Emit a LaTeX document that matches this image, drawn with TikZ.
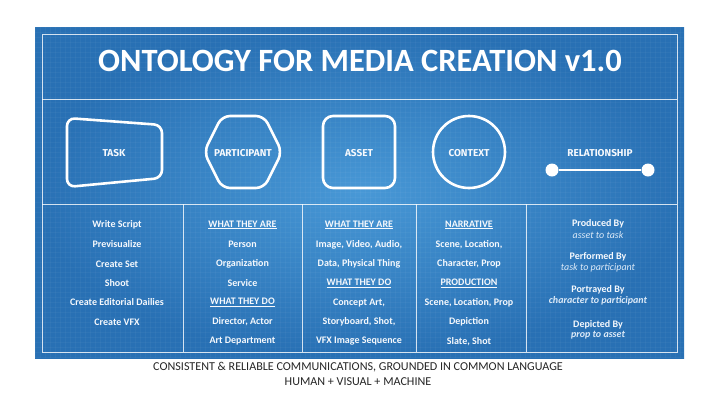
\documentclass[tikz,border=0pt]{standalone}
\usepackage{fontspec}
\setmainfont{Carlito}
\newfontfamily\shapefont{Fira Sans}
\definecolor{panelD}{RGB}{40,112,180}
\definecolor{panelL}{RGB}{72,152,214}
\definecolor{txt}{RGB}{246,249,253}
\definecolor{soft}{RGB}{220,234,248}
\definecolor{foot}{RGB}{38,38,38}
\tikzset{
  frameline/.style={draw=white, draw opacity=0.8, line width=0.9pt},
  shapeline/.style={draw=white, line width=2.6pt, rounded corners=8pt},
  shapelabel/.style={text=txt, font=\shapefont\bfseries\fontsize{10}{12}\selectfont},
  cell/.style={text=txt, font=\bfseries\fontsize{10}{12}\selectfont, inner sep=0pt},
  relhead/.style={text=txt, font=\bfseries\fontsize{10}{12}\selectfont, inner sep=0pt},
  relsub/.style={text=soft, font=\itshape\fontsize{10}{12}\selectfont, inner sep=0pt},
  relsubb/.style={text=soft, font=\bfseries\itshape\fontsize{10}{12}\selectfont, inner sep=0pt},
  footer/.style={text=foot, font=\fontsize{12.1}{14}\selectfont, inner sep=0pt},
}
\begin{document}
\begin{tikzpicture}[x=1pt,y=-1pt]
\useasboundingbox (0,0) rectangle (720,400);
\fill[white] (0,0) rectangle (720,400);
% panel
\fill[panelD] (35,27) rectangle (684,358);
\shade[inner color=panelL, outer color=panelD] (35,27) rectangle (684,358);
% faint grid
\begin{scope}
\clip (35,27) rectangle (684,358);
\foreach \gx in {35,40,...,684} {\draw[white, opacity=0.035, line width=0.3pt] (\gx,27) -- (\gx,358);}
\foreach \gy in {27,32,...,358} {\draw[white, opacity=0.035, line width=0.3pt] (35,\gy) -- (684,\gy);}
\end{scope}
% frame
\coordinate (f1) at (42,34);
\coordinate (f2) at (677,352);
\draw[frameline] (f1) rectangle (f2);
\coordinate (h1a) at (42,99);  \coordinate (h1b) at (677,99);
\coordinate (h2a) at (42,204); \coordinate (h2b) at (677,204);
\draw[frameline] (h1a) -- (h1b);
\draw[frameline] (h2a) -- (h2b);
\foreach \dx in {183,302,416,526} {\draw[frameline] (\dx,204) -- (\dx,352);}
% title
\node[text=white, font=\bfseries\fontsize{32.5}{36}\selectfont] (title) at (360,61) {ONTOLOGY FOR MEDIA CREATION v1.0};
% shapes
\draw[shapeline] (67,118) -- (162,125) -- (162,178) -- (67,187) -- cycle;
\node[shapelabel] (task) at (114,153) {TASK};
\draw[shapeline] (204,152) -- (222,116) -- (264,116) -- (282,152) -- (264,188) -- (222,188) -- cycle;
\node[shapelabel] (participant) at (243,153) {PARTICIPANT};
\draw[shapeline, rounded corners=10pt] (323,116) rectangle (395,188);
\node[shapelabel] (asset) at (359,153) {ASSET};
\node[draw=white, line width=2.6pt, circle, minimum size=72pt, inner sep=0pt] (ctxc) at (469,152) {};
\node[shapelabel] (context) at (469,153) {CONTEXT};
\node[shapelabel] (relationship) at (600,153) {RELATIONSHIP};
\node[circle, fill=white, minimum size=13pt, inner sep=0pt] (ra) at (552,170) {};
\node[circle, fill=white, minimum size=13pt, inner sep=0pt] (rb) at (648,170) {};
\draw[white, line width=2.6pt] (ra) -- (rb);
% column 1
\node[cell] (c1a) at (117,225) {Write Script};
\node[cell] (c1b) at (117,244.5) {Previsualize};
\node[cell] (c1c) at (117,264) {Create Set};
\node[cell] (c1d) at (117,283) {Shoot};
\node[cell] (c1e) at (117,302.5) {Create Editorial Dailies};
\node[cell] (c1f) at (117,322) {Create VFX};
% column 2
\node[cell] (c2a) at (242.5,225) {\underline{WHAT THEY ARE}};
\node[cell] (c2b) at (242.5,244.5) {Person};
\node[cell] (c2c) at (242.5,264) {Organization};
\node[cell] (c2d) at (242.5,283) {Service};
\node[cell] (c2e) at (242.5,302.5) {\underline{WHAT THEY DO}};
\node[cell] (c2f) at (242.5,322) {Director, Actor};
\node[cell] (c2g) at (242.5,341.5) {Art Department};
% column 3
\node[cell] (c3a) at (359,225) {\underline{WHAT THEY ARE}};
\node[cell] (c3b) at (359,244.5) {Image, Video, Audio,};
\node[cell] (c3c) at (359,264) {Data, Physical Thing};
\node[cell] (c3d) at (359,283) {\underline{WHAT THEY DO}};
\node[cell] (c3e) at (359,302.5) {Concept Art,};
\node[cell] (c3f) at (359,322) {Storyboard, Shot,};
\node[cell] (c3g) at (359,341.5) {VFX Image Sequence};
% column 4
\node[cell] (c4a) at (469,225) {\underline{NARRATIVE}};
\node[cell] (c4b) at (469,244.5) {Scene, Location,};
\node[cell] (c4c) at (469,264) {Character, Prop};
\node[cell] (c4d) at (469,283) {\underline{PRODUCTION}};
\node[cell] (c4e) at (469,302.5) {Scene, Location, Prop};
\node[cell] (c4f) at (469,322) {Depiction};
\node[cell] (c4g) at (469,341.5) {Slate, Shot};
% column 5
\node[relhead] (r1) at (598,224) {Produced By};
\node[relsub] (r1s) at (598,235) {asset to task};
\node[relhead] (r2) at (598,257) {Performed By};
\node[relsub] (r2s) at (598,268) {task to participant};
\node[relhead] (r3) at (598,290) {Portrayed By};
\node[relsubb] (r3s) at (598,301) {character to participant};
\node[relhead] (r4) at (598,324.5) {Depicted By};
\node[relsubb] (r4s) at (598,335.5) {prop to asset};
% footer
\node[footer] (foot1) at (358,367) {CONSISTENT \& RELIABLE COMMUNICATIONS, GROUNDED IN COMMON LANGUAGE};
\node[footer] (foot2) at (358,382) {HUMAN + VISUAL + MACHINE};
\end{tikzpicture}
\end{document}
